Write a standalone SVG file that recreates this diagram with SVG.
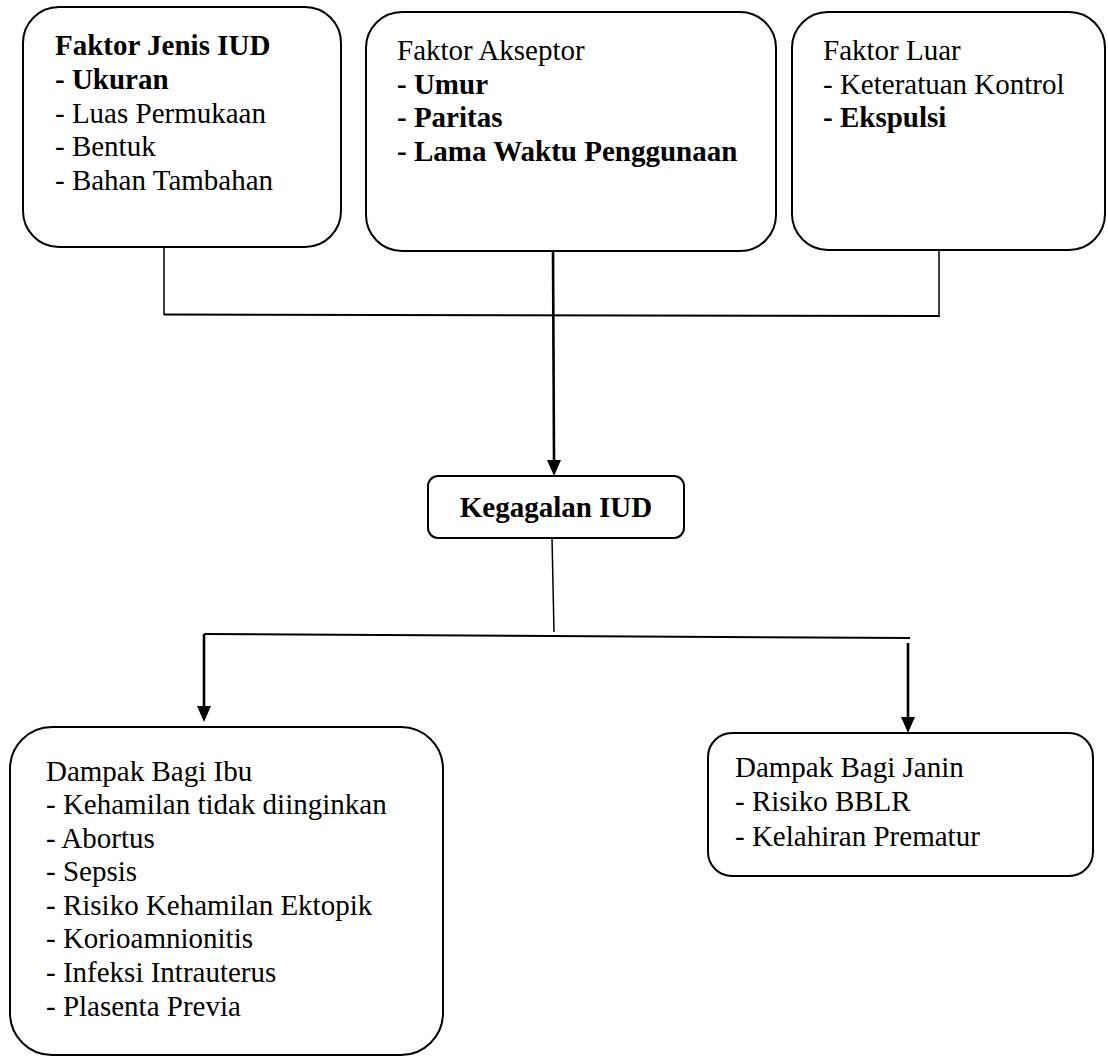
<svg xmlns="http://www.w3.org/2000/svg" width="1108" height="1056" viewBox="0 0 1108 1056">
<defs>
<style>
.box{fill:#fff;stroke:#000;stroke-width:2}
.t{font-family:"Liberation Serif","Times New Roman",serif;font-size:29px;fill:#000}
.b{font-weight:bold}
.thin{fill:none;stroke:#000;stroke-width:1.5}
.med{fill:none;stroke:#000;stroke-width:2}
.thick{fill:none;stroke:#000;stroke-width:2.6}
</style>
<marker id="arr" markerUnits="userSpaceOnUse" markerWidth="16" markerHeight="14" refX="0" refY="7" orient="auto" viewBox="0 0 16 14">
<path d="M0,0 L16,7 L0,14 Z" fill="#000"/>
</marker>
</defs>
<rect width="1108" height="1056" fill="#fff"/>

<g id="connectors">
<path class="thin" d="M164,247 L164,315"/>
<path class="thin" d="M939,250 L939,316"/>
<path class="med" d="M164,314.5 L940,316"/>
<line class="thick" x1="553" y1="248" x2="554" y2="460" marker-end="url(#arr)"/>
<path class="thin" d="M552,537 L554,632"/>
<path class="med" d="M204,634 L910,638"/>
<line class="thick" x1="204" y1="634" x2="204" y2="706" marker-end="url(#arr)"/>
<line class="thick" x1="908" y1="643" x2="908" y2="717" marker-end="url(#arr)"/>
</g>

<g id="faktor-jenis-iud">
<rect class="box" x="23" y="7" width="318" height="240" rx="36" ry="36"/>
<text class="t b" x="55" y="55">Faktor Jenis IUD</text>
<text class="t b" x="55" y="89">- Ukuran</text>
<text class="t" x="55" y="123">- Luas Permukaan</text>
<text class="t" x="55" y="156">- Bentuk</text>
<text class="t" x="55" y="190">- Bahan Tambahan</text>
</g>

<g id="faktor-akseptor">
<rect class="box" x="366" y="12" width="410" height="239" rx="36" ry="36"/>
<text class="t" x="397" y="60">Faktor Akseptor</text>
<text class="t b" x="397" y="94">- Umur</text>
<text class="t b" x="397" y="127">- Paritas</text>
<text class="t b" x="397" y="161">- Lama Waktu Penggunaan</text>
</g>

<g id="faktor-luar">
<rect class="box" x="792" y="12" width="313" height="238" rx="36" ry="36"/>
<text class="t" x="823" y="60">Faktor Luar</text>
<text class="t" x="823" y="94">- Keteratuan Kontrol</text>
<text class="t b" x="823" y="127">- Ekspulsi</text>
</g>

<g id="kegagalan-iud">
<rect class="box" x="428" y="476" width="256" height="62" rx="10" ry="10"/>
<text class="t b" x="556" y="517" text-anchor="middle">Kegagalan IUD</text>
</g>

<g id="dampak-ibu">
<rect class="box" x="10" y="727" width="433" height="328" rx="42" ry="42"/>
<text class="t" x="46" y="781">Dampak Bagi Ibu</text>
<text class="t" x="46" y="814">- Kehamilan tidak diinginkan</text>
<text class="t" x="46" y="848">- Abortus</text>
<text class="t" x="46" y="881">- Sepsis</text>
<text class="t" x="46" y="915">- Risiko Kehamilan Ektopik</text>
<text class="t" x="46" y="948">- Korioamnionitis</text>
<text class="t" x="46" y="982">- Infeksi Intrauterus</text>
<text class="t" x="46" y="1016">- Plasenta Previa</text>
</g>

<g id="dampak-janin">
<rect class="box" x="708" y="733" width="385" height="143" rx="24" ry="24"/>
<text class="t" x="735" y="777">Dampak Bagi Janin</text>
<text class="t" x="735" y="811">- Risiko BBLR</text>
<text class="t" x="735" y="846">- Kelahiran Prematur</text>
</g>
</svg>
